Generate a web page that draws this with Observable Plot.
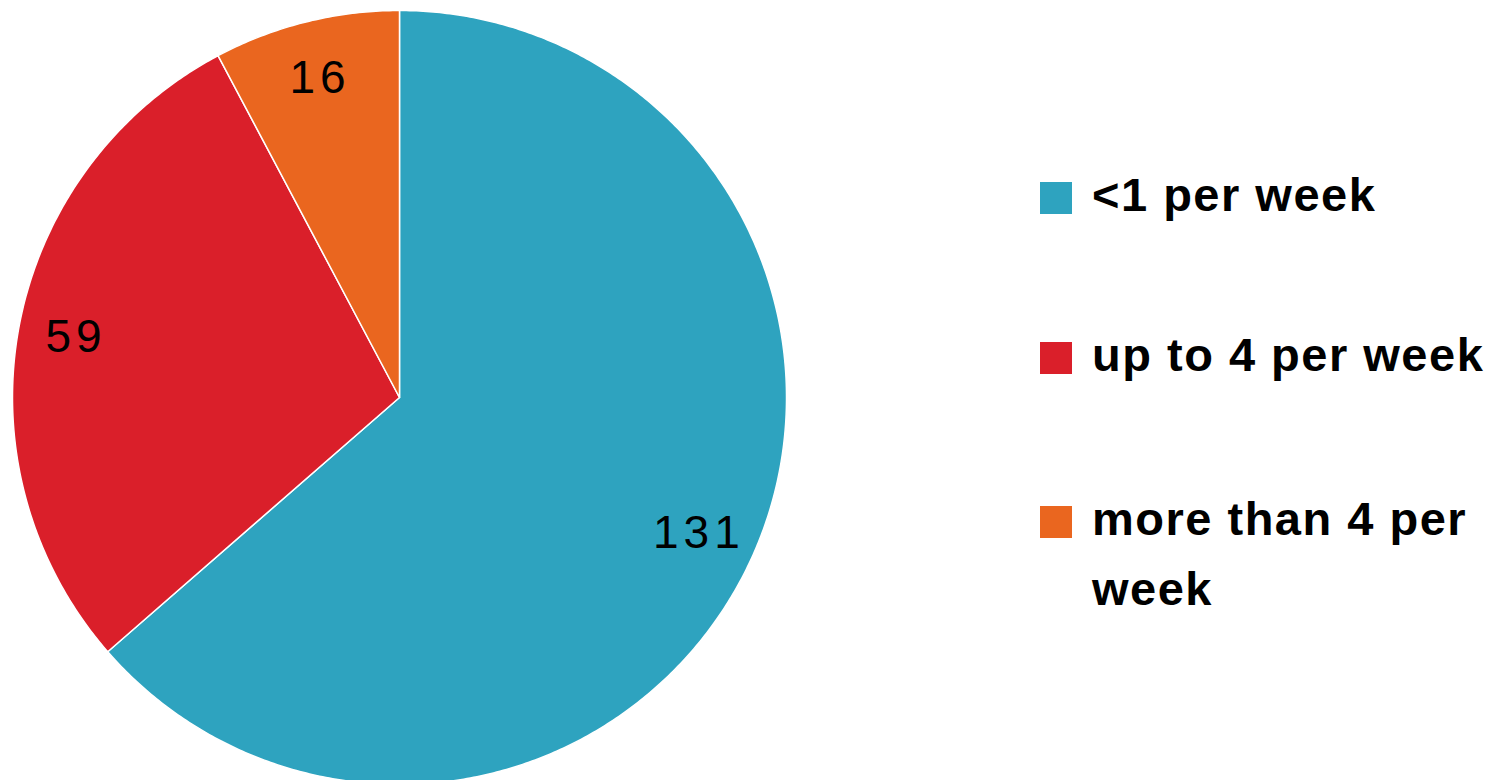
<!DOCTYPE html>
<html>
<head>
<meta charset="utf-8">
<script src="https://cdn.jsdelivr.net/npm/d3@7"></script>
<script src="https://cdn.jsdelivr.net/npm/@observablehq/plot@0.6"></script>
<style>
  html, body { margin: 0; padding: 0; background: #fff; }
  #wrap { position: relative; width: 1502px; height: 780px; overflow: hidden; }
  #chart text { letter-spacing: 5px; }
  #legend { position: absolute; left: 1040px; top: 0; font-family: "Liberation Sans", Arial, sans-serif; font-weight: bold; font-size: 47px; color: #000; }
  .item { position: absolute; left: 0; width: 460px; display: flex; align-items: flex-start; }
  .sw { width: 32px; height: 32px; flex: none; margin-right: 20px; }
  .lbl { line-height: 70px; letter-spacing: 1.5px; }
</style>
</head>
<body>
<div id="wrap">
  <div id="chart"></div>
  <div id="legend"></div>
</div>
<script>
const categories = ["<1 per week", "up to 4 per week", "more than 4 per week"];
const values = [131, 59, 16];
const colors = ["#2EA3BF", "#DA1F2A", "#EA661F"];

const total = d3.sum(values);
// build slice polygons (clockwise from 12 o'clock) in unit coordinates
const pts = [];
const labels = [];
let acc = 0;
categories.forEach((c, i) => {
  const a0 = acc / total * 2 * Math.PI;
  acc += values[i];
  const a1 = acc / total * 2 * Math.PI;
  pts.push({cat: c, x: 0, y: 0});
  const n = Math.max(2, Math.ceil((a1 - a0) / (Math.PI / 360)));
  for (let k = 0; k <= n; k++) {
    const a = a0 + (a1 - a0) * k / n;
    pts.push({cat: c, x: Math.sin(a), y: Math.cos(a)});
  }
  pts.push({cat: c, x: 0, y: 0});
  const am = (a0 + a1) / 2;
  labels.push({cat: c, value: values[i], x: 0.85 * Math.sin(am), y: 0.85 * Math.cos(am)});
});

const plot = Plot.plot({
  width: 1502,
  height: 780,
  margin: 0,
  x: {domain: [-1, 1], range: [12, 786], axis: null},
  y: {domain: [-1, 1], range: [784, 10], axis: null},
  color: {domain: categories, range: colors},
  style: {background: "white"},
  marks: [
    Plot.line(pts, {x: "x", y: "y", z: "cat", fill: "cat", stroke: "white", strokeWidth: 1.5, curve: "linear"}),
    Plot.text(labels, {x: "x", y: "y", text: d => String(d.value), fontSize: 46, fill: "black",
      fontFamily: "Liberation Sans, Arial, sans-serif"})
  ]
});
document.getElementById("chart").appendChild(plot);

// legend
const tops = [160, 320, 484];
const legend = document.getElementById("legend");
categories.forEach((c, i) => {
  const item = document.createElement("div");
  item.className = "item";
  item.style.top = tops[i] + "px";
  const sw = document.createElement("div");
  sw.className = "sw";
  sw.style.background = colors[i];
  sw.style.marginTop = "22px";
  const lbl = document.createElement("div");
  lbl.className = "lbl";
  lbl.style.width = "400px";
  lbl.textContent = c;
  item.appendChild(sw);
  item.appendChild(lbl);
  legend.appendChild(item);
});
</script>
</body>
</html>
